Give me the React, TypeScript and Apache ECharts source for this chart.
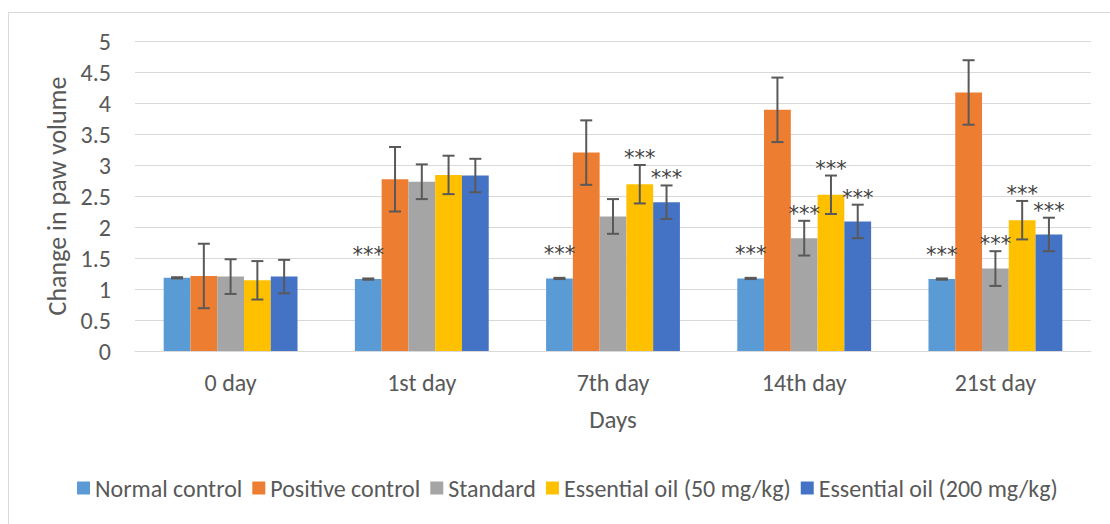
import React, { useEffect, useRef } from "react";
import * as echarts from "echarts";

const categories = ["0 day", "1st day", "7th day", "14th day", "21st day"];
const seriesNames = [
  "Normal control",
  "Positive control",
  "Standard",
  "Essential oil (50 mg/kg)",
  "Essential oil (200 mg/kg)",
];
const normalControl = [1.18, 1.16, 1.17, 1.17, 1.16];
const positiveControl = [1.21, 2.77, 3.2, 3.89, 4.17];
const standard = [1.2, 2.73, 2.17, 1.82, 1.33];
const eo50 = [1.14, 2.84, 2.69, 2.52, 2.11];
const eo200 = [1.2, 2.83, 2.4, 2.09, 1.88];

const errNormal = [0.01, 0.01, 0.01, 0.01, 0.01];
const errPositive = [0.52, 0.52, 0.52, 0.52, 0.52];
const errStandard = [0.28, 0.28, 0.28, 0.28, 0.28];
const errEo50 = [0.31, 0.31, 0.31, 0.31, 0.31];
const errEo200 = [0.27, 0.27, 0.27, 0.27, 0.27];

// 1 = "***" significance marker shown
const sigNormal = [0, 1, 1, 1, 1];
const sigPositive = [0, 0, 0, 0, 0];
const sigStandard = [0, 0, 0, 1, 1];
const sigEo50 = [0, 0, 1, 1, 1];
const sigEo200 = [0, 0, 1, 1, 1];

const yTicks = ["0", "0.5", "1", "1.5", "2", "2.5", "3", "3.5", "4", "4.5", "5"];

const colors = ["#5B9BD5", "#ED7D31", "#A5A5A5", "#FFC000", "#4472C4"];
const FONT = "Carlito, Calibri, Lato, sans-serif";
const TXT = "#595959";

export default function App() {
  const ref = useRef<HTMLDivElement>(null);
  useEffect(() => {
    if (!ref.current) return;
    const chart = echarts.init(ref.current, undefined, { renderer: "svg" });
    const values = [normalControl, positiveControl, standard, eo50, eo200];
    const errs = [errNormal, errPositive, errStandard, errEo50, errEo200];
    const sigs = [sigNormal, sigPositive, sigStandard, sigEo50, sigEo200];
    const nSeries = values.length;
    const catGap = 0.3;

    const bars = values.map((v, i) => ({
      name: seriesNames[i],
      type: "bar",
      data: v,
      barGap: "0%",
      barCategoryGap: "30%",
      itemStyle: { color: colors[i] },
      z: 2,
    }));

    const errSeries = values.map((v, i) => ({
      name: "err" + i,
      type: "custom",
      z: 5,
      silent: true,
      data: v.map((val, k) => [k, val, errs[i][k], sigs[i][k]]),
      renderItem: (params: any, api: any) => {
        const cat = api.value(0);
        const val = api.value(1);
        const err = api.value(2);
        const sig = api.value(3);
        const c = api.coord([cat, val]);
        const band = api.size([1, 0])[0];
        const barW = (band * (1 - catGap)) / nSeries;
        const x = c[0] - (band * (1 - catGap)) / 2 + (i + 0.5) * barW;
        const top = api.coord([cat, val + err])[1];
        const bot = api.coord([cat, val - err])[1];
        const ls = { stroke: "#595959", lineWidth: 2 };
        const children: any[] = [
          { type: "line", shape: { x1: x, y1: top, x2: x, y2: bot }, style: ls },
          { type: "line", shape: { x1: x - 6, y1: top, x2: x + 6, y2: top }, style: ls },
          { type: "line", shape: { x1: x - 6, y1: bot, x2: x + 6, y2: bot }, style: ls },
        ];
        if (sig) {
          const y = (i === 0 ? c[1] - 29 : top - 12) + 5;
          children.push({
            type: "text",
            x,
            y,
            style: {
              text: "***",
              fill: "#404040",
              fontFamily: "DejaVu Sans",
              fontSize: 21,
              lineHeight: 12,
              align: "center",
              verticalAlign: "middle",
            },
          });
        }
        return { type: "group", children };
      },
    }));

    chart.setOption({
      animation: false,
      textStyle: { fontFamily: FONT },
      grid: { left: 135, right: 19, top: 41, bottom: 173 },
      legend: {
        data: seriesNames,
        left: 72,
        top: 471,
        icon: "rect",
        itemWidth: 13,
        itemHeight: 13,
        itemGap: 10,
        textStyle: { color: TXT, fontSize: 24, fontFamily: FONT },
      },
      xAxis: {
        type: "category",
        data: categories,
        axisTick: { show: false },
        axisLine: { lineStyle: { color: "#D9D9D9", width: 1 } },
        axisLabel: { color: TXT, fontSize: 24, margin: 19, fontFamily: FONT },
        name: "Days",
        nameLocation: "middle",
        nameGap: 56,
        nameTextStyle: { color: TXT, fontSize: 25, fontFamily: FONT },
      },
      yAxis: {
        type: "value",
        min: 0,
        max: 5,
        interval: 0.5,
        axisLine: { show: false },
        axisTick: { show: false },
        splitLine: { lineStyle: { color: "#D9D9D9", width: 1 } },
        axisLabel: {
          color: TXT,
          fontSize: 24,
          margin: 24,
          fontFamily: FONT,
          formatter: (v: number) => yTicks[Math.round(v * 2)] ?? String(v),
        },
        name: "Change in paw volume",
        nameLocation: "middle",
        nameGap: 64,
        nameTextStyle: { color: TXT, fontSize: 26, fontFamily: FONT },
      },
      graphic: [
        {
          type: "line",
          shape: { x1: 8.5, y1: 12, x2: 8.5, y2: 524 },
          style: { stroke: "#D9D9D9", lineWidth: 1 },
        },
        {
          type: "line",
          shape: { x1: 8, y1: 12.5, x2: 1110, y2: 12.5 },
          style: { stroke: "#D9D9D9", lineWidth: 1 },
        },
      ],
      series: [...bars, ...errSeries],
    });
    return () => chart.dispose();
  }, []);
  return (
    <div
      ref={ref}
      style={{ position: "absolute", left: 0, top: 0, width: 1110, height: 524, background: "#fff" }}
    />
  );
}
